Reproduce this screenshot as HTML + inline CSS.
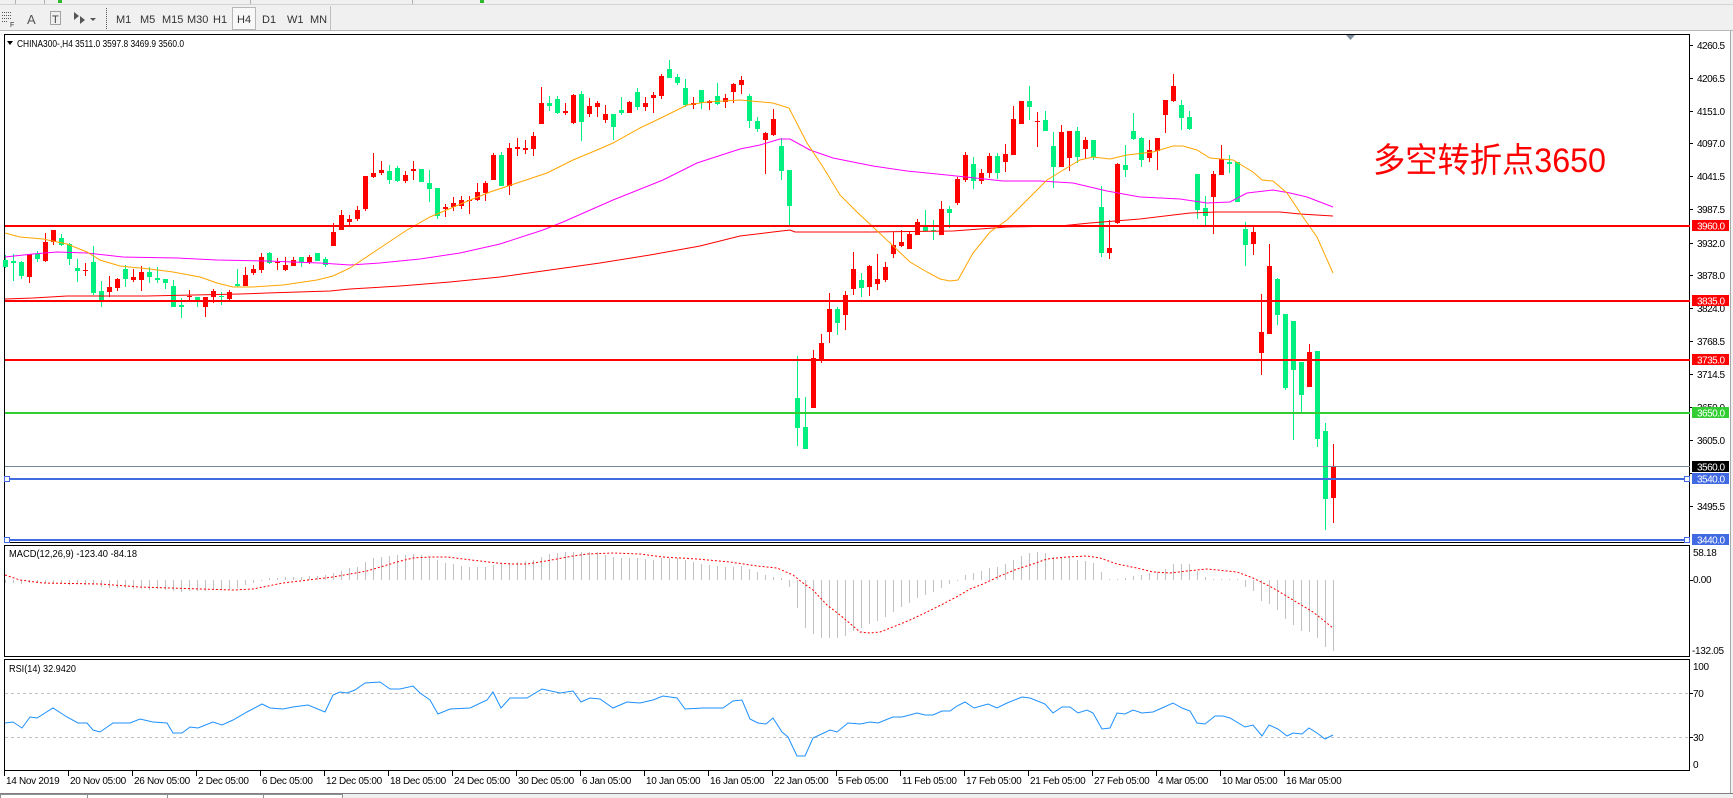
<!DOCTYPE html>
<html><head><meta charset="utf-8"><style>
html,body{margin:0;padding:0;background:#f0f0f0;}
body{width:1733px;height:798px;overflow:hidden;}
svg{display:block;}
text{font-family:"Liberation Sans",sans-serif;}
</style></head><body>
<svg width="1733" height="798" viewBox="0 0 1733 798" xmlns="http://www.w3.org/2000/svg">
<!-- window backgrounds -->
<rect x="0" y="0" width="1733" height="798" fill="#f0f0f0"/>
<line x1="0" y1="4.5" x2="1733" y2="4.5" stroke="#d4d4d4"/>
<rect x="58" y="0" width="4" height="3" fill="#2eb82e"/>
<rect x="480" y="0" width="4" height="3" fill="#2eb82e"/>
<line x1="15.5" y1="0" x2="15.5" y2="4" stroke="#b0b0b0"/>
<line x1="44.5" y1="0" x2="44.5" y2="4" stroke="#b0b0b0"/>
<line x1="250.5" y1="0" x2="250.5" y2="4" stroke="#b0b0b0"/>
<line x1="412.5" y1="0" x2="412.5" y2="4" stroke="#b0b0b0"/>
<!-- toolbar -->
<g stroke="#555" stroke-dasharray="1 1" shape-rendering="crispEdges">
<line x1="2" y1="12.5" x2="12" y2="12.5"/><line x1="2" y1="15.5" x2="12" y2="15.5"/><line x1="2" y1="18.5" x2="12" y2="18.5"/><line x1="2" y1="21.5" x2="8" y2="21.5"/>
<rect x="50.5" y="11.5" width="10" height="13" fill="none"/>
<line x1="106.5" y1="8" x2="106.5" y2="30"/>
</g>
<text x="10" y="27" font-size="7" fill="#333">F</text>
<text x="27" y="24" font-size="13" fill="#555">A</text>
<text x="52" y="23" font-size="11" fill="#444">T</text>
<g fill="#555"><path d="M74 12l5 4-5 4zM80 16l5 4-5 4z"/><path d="M90 18h6l-3 3z"/></g>
<rect x="232.5" y="7.5" width="23" height="22" fill="#f8f8f8" stroke="#b8b8b8"/>
<g font-size="11" fill="#333">
<text x="116" y="23">M1</text><text x="140" y="23">M5</text><text x="162" y="23">M15</text><text x="187" y="23">M30</text><text x="213" y="23">H1</text><text x="237" y="23">H4</text><text x="262" y="23">D1</text><text x="287" y="23">W1</text><text x="310" y="23">MN</text>
</g>
<line x1="330.5" y1="6" x2="330.5" y2="30" stroke="#c0c0c0"/>
<line x1="0" y1="30.5" x2="1733" y2="30.5" stroke="#b8b8b8"/>
<!-- chart white area -->
<rect x="0" y="31" width="1730" height="762" fill="#ffffff"/>
<line x1="1730.5" y1="31" x2="1730.5" y2="793" stroke="#a8a8a8"/>
<!-- bottom tabs -->
<rect x="0" y="793" width="1733" height="5" fill="#f0f0f0"/>
<line x1="0" y1="793.5" x2="1733" y2="793.5" stroke="#808080"/>
<rect x="0.5" y="794.5" width="342" height="5" fill="#fff" stroke="#909090"/>
<g stroke="#909090"><line x1="87.5" y1="794" x2="87.5" y2="798"/><line x1="167.5" y1="794" x2="167.5" y2="798"/><line x1="263.5" y1="794" x2="263.5" y2="798"/></g>

<!-- panel borders -->
<g fill="none" stroke="#000" shape-rendering="crispEdges">
<rect x="4.5" y="34.5" width="1685" height="508"/>
<rect x="4.5" y="545.5" width="1685" height="111"/>
<rect x="4.5" y="659.5" width="1685" height="111"/>
</g>
<!-- price axis ticks -->
<g stroke="#000" shape-rendering="crispEdges">
<path d="M1690 45.5h3M1690 78.5h3M1690 111.5h3M1690 143.5h3M1690 176.5h3M1690 209.5h3M1690 243.5h3M1690 275.5h3M1690 308.5h3M1690 341.5h3M1690 374.5h3M1690 407.5h3M1690 440.5h3M1690 473.5h3M1690 506.5h3M1690 580.5h3M1690 693.5h3M1690 737.5h3"/>
<path d="M4.5 771v5M68.5 771v5M132.5 771v5M196.5 771v5M260.5 771v5M324.5 771v5M388.5 771v5M452.5 771v5M516.5 771v5M580.5 771v5M644.5 771v5M708.5 771v5M772.5 771v5M836.5 771v5M900.5 771v5M964.5 771v5M1028.5 771v5M1092.5 771v5M1156.5 771v5M1220.5 771v5M1284.5 771v5"/>
</g>

<!-- title -->
<path d="M7 41h6l-3 4z" fill="#000"/>
<text x="17" y="47" font-size="10" fill="#000" textLength="167" lengthAdjust="spacingAndGlyphs">CHINA300-,H4  3511.0 3597.8 3469.9 3560.0</text>
<path d="M1346 35h9l-4.5 5z" fill="#8090a0"/>

<!-- candles: wicks -->
<g shape-rendering="crispEdges">
<path fill="none" stroke="#00f07f" d="M5.5 255V268M13.5 254V281M21.5 261V279M37.5 251V262M61.5 234V246M69.5 243V265M77.5 259V282M93.5 246V295M101.5 281V307M125.5 265V287M149.5 267V283M157.5 267V283M165.5 279V289M173.5 280V307M181.5 298V318M197.5 297V307M221.5 292V305M237.5 269V287M269.5 252V264M301.5 257V267M317.5 253V261M325.5 257V267M389.5 165V184M397.5 166V182M421.5 169V182M429.5 170V202M437.5 188V219M501.5 152V186M549.5 96V111M557.5 96V114M581.5 91V141M613.5 114V140M621.5 97V115M637.5 88V110M669.5 60V78M677.5 74V85M685.5 79V107M701.5 90V109M717.5 83V105M749.5 94V128M757.5 117V132M781.5 138V180M789.5 170V226M797.5 356V446M805.5 397V449M837.5 307V335M861.5 273V297M925.5 210V231M933.5 220V240M949.5 206V228M973.5 157V189M997.5 153V179M1029.5 86V120M1045.5 111V131M1053.5 132V188M1077.5 127V163M1093.5 140V160M1101.5 186V257M1125.5 145V177M1133.5 113V140M1141.5 137V167M1181.5 100V130M1189.5 111V130M1197.5 174V219M1205.5 196V225M1229.5 155V173M1237.5 162V202M1245.5 222V266M1277.5 278V325M1285.5 314V390M1293.5 321V440M1301.5 362V412M1317.5 351V447M1325.5 423V530"/>
<path fill="#00f07f" d="M3 260h5V267h-5zM11 261h5V263h-5zM19 262h5V276h-5zM35 254h5V259h-5zM59 238h5V245h-5zM67 244h5V259h-5zM75 268h5V271h-5zM91 262h5V293h-5zM99 291h5V300h-5zM123 269h5V279h-5zM147 272h5V277h-5zM155 278h5V280h-5zM163 279h5V283h-5zM171 286h5V307h-5zM179 305h5V307h-5zM195 297h5V300h-5zM219 296h5V297h-5zM235 284h5V286h-5zM267 253h5V263h-5zM299 257h5V262h-5zM315 253h5V261h-5zM323 259h5V265h-5zM387 171h5V180h-5zM395 168h5V181h-5zM419 169h5V182h-5zM427 183h5V189h-5zM435 188h5V216h-5zM499 155h5V186h-5zM547 103h5V106h-5zM555 99h5V113h-5zM579 94h5V122h-5zM611 114h5V127h-5zM619 110h5V113h-5zM635 92h5V107h-5zM667 69h5V78h-5zM675 77h5V83h-5zM683 88h5V105h-5zM699 90h5V103h-5zM715 96h5V104h-5zM747 96h5V121h-5zM755 121h5V129h-5zM779 146h5V171h-5zM787 170h5V206h-5zM795 398h5V428h-5zM803 427h5V449h-5zM835 309h5V323h-5zM859 280h5V288h-5zM923 227h5V231h-5zM931 230h5V231h-5zM947 209h5V213h-5zM971 164h5V181h-5zM995 156h5V173h-5zM1027 101h5V107h-5zM1043 120h5V131h-5zM1051 146h5V167h-5zM1075 131h5V157h-5zM1091 140h5V157h-5zM1099 207h5V253h-5zM1123 165h5V170h-5zM1131 131h5V139h-5zM1139 138h5V160h-5zM1179 105h5V118h-5zM1187 117h5V129h-5zM1195 174h5V210h-5zM1203 208h5V216h-5zM1227 162h5V164h-5zM1235 162h5V202h-5zM1243 229h5V245h-5zM1275 279h5V315h-5zM1283 314h5V388h-5zM1291 321h5V370h-5zM1299 362h5V395h-5zM1315 351h5V439h-5zM1323 431h5V499h-5z"/>
<path fill="none" stroke="#ff0000" d="M29.5 254V283M45.5 233V262M53.5 230V245M85.5 263V276M109.5 276V297M117.5 278V291M133.5 269V282M141.5 266V291M189.5 290V301M205.5 297V317M213.5 289V303M229.5 290V300M245.5 267V286M253.5 265V275M261.5 253V273M277.5 258V270M285.5 257V271M293.5 257V266M309.5 255V264M333.5 223V246M341.5 210V230M349.5 215V225M357.5 206V221M365.5 176V211M373.5 153V178M381.5 161V175M405.5 171V183M413.5 161V180M445.5 204V217M453.5 197V211M461.5 196V209M469.5 196V214M477.5 183V201M485.5 181V201M493.5 153V180M509.5 143V195M517.5 138V156M525.5 140V154M533.5 132V156M541.5 87V124M565.5 103V115M573.5 94V124M589.5 98V117M597.5 101V117M605.5 105V123M629.5 101V113M645.5 97V111M653.5 92V113M661.5 74V99M693.5 97V109M709.5 100V110M725.5 94V108M733.5 83V103M741.5 76V94M765.5 132V174M773.5 109V136M813.5 350V408M821.5 334V363M829.5 293V343M845.5 291V330M853.5 252V295M869.5 265V296M877.5 254V290M885.5 262V282M893.5 232V258M901.5 230V247M909.5 232V249M917.5 219V235M941.5 201V235M957.5 177V205M965.5 152V182M981.5 169V184M989.5 153V178M1005.5 144V172M1013.5 106V155M1021.5 101V124M1037.5 112V147M1061.5 125V167M1069.5 131V171M1085.5 137V159M1109.5 220V259M1117.5 163V224M1149.5 140V162M1157.5 138V170M1165.5 100V133M1173.5 74V102M1213.5 171V234M1221.5 145V175M1253.5 226V255M1261.5 294V375M1269.5 244V334M1309.5 344V387M1333.5 444V523"/>
<path fill="#ff0000" d="M27 254h5V277h-5zM43 242h5V261h-5zM51 230h5V242h-5zM83 270h5V271h-5zM107 287h5V292h-5zM115 279h5V288h-5zM131 277h5V280h-5zM139 272h5V280h-5zM187 296h5V297h-5zM203 297h5V307h-5zM211 291h5V297h-5zM227 292h5V299h-5zM243 275h5V286h-5zM251 269h5V273h-5zM259 257h5V270h-5zM275 262h5V263h-5zM283 265h5V270h-5zM291 260h5V266h-5zM307 257h5V262h-5zM331 232h5V246h-5zM339 215h5V230h-5zM347 219h5V222h-5zM355 210h5V219h-5zM363 176h5V209h-5zM371 173h5V177h-5zM379 170h5V173h-5zM403 175h5V181h-5zM411 169h5V171h-5zM443 207h5V209h-5zM451 203h5V207h-5zM459 200h5V206h-5zM467 200h5V201h-5zM475 192h5V200h-5zM483 183h5V193h-5zM491 155h5V180h-5zM507 148h5V186h-5zM515 147h5V149h-5zM523 148h5V150h-5zM531 136h5V149h-5zM539 103h5V124h-5zM563 111h5V113h-5zM571 95h5V123h-5zM587 106h5V114h-5zM595 103h5V107h-5zM603 114h5V120h-5zM627 102h5V113h-5zM643 103h5V107h-5zM651 95h5V98h-5zM659 76h5V96h-5zM691 103h5V105h-5zM707 101h5V103h-5zM723 98h5V102h-5zM731 84h5V92h-5zM739 80h5V85h-5zM763 133h5V140h-5zM771 119h5V135h-5zM811 358h5V408h-5zM819 343h5V361h-5zM827 309h5V332h-5zM843 295h5V315h-5zM851 269h5V289h-5zM867 266h5V287h-5zM875 279h5V284h-5zM883 267h5V280h-5zM891 245h5V254h-5zM899 242h5V246h-5zM907 234h5V249h-5zM915 222h5V235h-5zM939 209h5V235h-5zM955 179h5V203h-5zM963 155h5V180h-5zM979 173h5V181h-5zM987 156h5V173h-5zM1003 154h5V162h-5zM1011 119h5V155h-5zM1019 101h5V124h-5zM1035 121h5V122h-5zM1059 132h5V167h-5zM1067 131h5V158h-5zM1083 140h5V149h-5zM1107 248h5V253h-5zM1115 164h5V223h-5zM1147 150h5V158h-5zM1155 138h5V151h-5zM1163 100h5V115h-5zM1171 86h5V101h-5zM1211 174h5V197h-5zM1219 159h5V175h-5zM1251 232h5V244h-5zM1259 332h5V353h-5zM1267 266h5V334h-5zM1307 352h5V387h-5zM1331 467h5V498h-5z"/>
</g>

<!-- moving averages -->
<g fill="none" stroke-width="1">
<polyline stroke="#ff0000" points="5,299 33,298 50,297 67,296 147,296 240,294 267,293 330,291 350,289 400,286 450,282 500,277 550,270 600,263 650,255 700,246 740,236 773,232 790,230 795,232 873,232 953,231 1007,227 1060,226 1090,223 1140,219 1190,213 1217,212 1280,212 1300,214 1333,216"/>
<polyline stroke="#ff00ff" points="5,257 33,254 57,252 87,253 123,257 177,258 217,260 267,261 320,263 350,265 380,263 420,259 460,253 500,244 543,230 563,222 613,200 663,180 697,163 740,149 760,145 780,139 790,139 810,150 833,158 873,166 907,171 947,175 1003,181 1040,181 1073,183 1107,191 1140,197 1180,199 1207,203 1230,202 1247,193 1273,190 1290,193 1307,197 1333,207"/>
<polyline stroke="#ffa500" points="5,233 20,237 43,239 67,244 87,252 100,260 120,266 150,269 173,272 200,277 217,283 233,287 253,287 283,285 317,280 333,276 350,268 380,248 407,230 430,217 463,203 490,192 517,183 547,173 573,160 597,150 613,143 640,128 663,117 687,105 707,102 740,100 773,103 789,108 807,143 823,167 840,195 857,212 873,227 890,243 910,262 927,272 940,279 950,281 958,280 973,253 990,232 1007,220 1027,200 1047,180 1060,172 1080,160 1093,157 1110,159 1127,155 1153,152 1173,146 1183,146 1197,150 1210,158 1233,160 1253,172 1262,180 1273,181 1287,193 1303,217 1317,237 1333,273"/>
</g>

<!-- horizontal lines -->
<g shape-rendering="crispEdges">
<rect x="5" y="225" width="1685" height="2" fill="#ff0000"/>
<rect x="5" y="300" width="1685" height="2" fill="#ff0000"/>
<rect x="5" y="359" width="1685" height="2" fill="#ff0000"/>
<rect x="5" y="412" width="1685" height="2" fill="#32cd32"/>
<rect x="5" y="466" width="1685" height="1" fill="#778899"/>
<rect x="5" y="478" width="1685" height="2" fill="#4169e1"/>
<rect x="5" y="539" width="1685" height="2" fill="#4169e1"/>
<rect x="4.5" y="476.5" width="5" height="5" fill="#fff" stroke="#4169e1"/>
<rect x="1684.5" y="476.5" width="5" height="5" fill="#fff" stroke="#4169e1"/>
<rect x="4.5" y="537.5" width="5" height="5" fill="#fff" stroke="#4169e1"/>
<rect x="1684.5" y="537.5" width="5" height="5" fill="#fff" stroke="#4169e1"/>
</g>

<!-- annotation -->
<text x="1373" y="172" font-size="34" fill="#ff0000" textLength="233" lengthAdjust="spacingAndGlyphs" style="font-family:'Liberation Sans','Noto Sans CJK SC',sans-serif">多空转折点3650</text>

<!-- price axis labels -->
<g font-size="10" fill="#000" letter-spacing="-0.5">
<text x="1697" y="49">4260.5</text>
<text x="1697" y="82">4206.5</text>
<text x="1697" y="115">4151.0</text>
<text x="1697" y="147">4097.0</text>
<text x="1697" y="180">4041.5</text>
<text x="1697" y="213">3987.5</text>
<text x="1697" y="247">3932.0</text>
<text x="1697" y="279">3878.0</text>
<text x="1697" y="312">3824.0</text>
<text x="1697" y="345">3768.5</text>
<text x="1697" y="378">3714.5</text>
<text x="1697" y="411">3659.0</text>
<text x="1697" y="444">3605.0</text>
<text x="1697" y="510">3495.5</text>
</g>
<g shape-rendering="crispEdges">
<rect x="1692" y="220" width="37" height="11" fill="#ff0000"/>
<rect x="1692" y="295" width="37" height="11" fill="#ff0000"/>
<rect x="1692" y="354" width="37" height="11" fill="#ff0000"/>
<rect x="1692" y="407" width="37" height="11" fill="#32cd32"/>
<rect x="1692" y="461" width="37" height="11" fill="#000000"/>
<rect x="1692" y="473" width="37" height="11" fill="#4169e1"/>
<rect x="1692" y="534" width="37" height="11" fill="#4169e1"/>
</g>
<g font-size="10" fill="#fff" letter-spacing="-0.5">
<text x="1697" y="229.5">3960.0</text>
<text x="1697" y="304.5">3835.0</text>
<text x="1697" y="363.5">3735.0</text>
<text x="1697" y="416.5">3650.0</text>
<text x="1697" y="470.5">3560.0</text>
<text x="1697" y="482.5">3540.0</text>
<text x="1697" y="543.5">3440.0</text>
</g>

<!-- MACD -->
<path fill="none" stroke="#c0c0c0" shape-rendering="crispEdges" d="M5.5 580V583M13.5 580V583M21.5 580V584M29.5 580V583M37.5 580V583M45.5 580V583M53.5 580V584M61.5 580V584M69.5 580V585M77.5 580V584M85.5 580V585M93.5 580V585M101.5 580V587M109.5 580V588M117.5 580V588M125.5 580V588M133.5 580V589M141.5 580V589M149.5 580V590M157.5 580V589M165.5 580V590M173.5 580V591M181.5 580V592M189.5 580V591M197.5 580V591M205.5 580V591M213.5 580V590M221.5 580V590M229.5 580V589M237.5 580V588M245.5 580V585M253.5 580V583M261.5 580V581M269.5 580V578M277.5 580V578M285.5 580V577M293.5 580V577M301.5 580V577M309.5 580V576M317.5 580V576M325.5 580V575M333.5 580V573M341.5 580V571M349.5 580V568M357.5 580V567M365.5 580V562M373.5 580V558M381.5 580V557M389.5 580V556M397.5 580V555M405.5 580V555M413.5 580V554M421.5 580V555M429.5 580V557M437.5 580V560M445.5 580V563M453.5 580V564M461.5 580V566M469.5 580V567M477.5 580V567M485.5 580V567M493.5 580V565M501.5 580V564M509.5 580V563M517.5 580V562M525.5 580V561M533.5 580V560M541.5 580V557M549.5 580V554M557.5 580V553M565.5 580V552M573.5 580V552M581.5 580V552M589.5 580V552M597.5 580V552M605.5 580V555M613.5 580V557M621.5 580V558M629.5 580V558M637.5 580V558M645.5 580V559M653.5 580V560M661.5 580V558M669.5 580V558M677.5 580V558M685.5 580V560M693.5 580V562M701.5 580V564M709.5 580V565M717.5 580V566M725.5 580V567M733.5 580V567M741.5 580V566M749.5 580V569M757.5 580V572M765.5 580V575M773.5 580V577M781.5 580V578M789.5 580V587M797.5 580V608M805.5 580V628M813.5 580V634M821.5 580V638M829.5 580V638M837.5 580V638M845.5 580V636M853.5 580V631M861.5 580V628M869.5 580V624M877.5 580V621M885.5 580V617M893.5 580V612M901.5 580V607M909.5 580V603M917.5 580V598M925.5 580V595M933.5 580V592M941.5 580V588M949.5 580V584M957.5 580V581M965.5 580V575M973.5 580V573M981.5 580V571M989.5 580V568M997.5 580V567M1005.5 580V564M1013.5 580V560M1021.5 580V556M1029.5 580V553M1037.5 580V552M1045.5 580V553M1053.5 580V557M1061.5 580V557M1069.5 580V557M1077.5 580V560M1085.5 580V561M1093.5 580V563M1101.5 580V572M1109.5 580V579M1117.5 580V579M1125.5 580V578M1133.5 580V576M1141.5 580V575M1149.5 580V573M1157.5 580V572M1165.5 580V569M1173.5 580V564M1181.5 580V564M1189.5 580V564M1197.5 580V571M1205.5 580V577M1213.5 580V579M1221.5 580V579M1229.5 580V579M1237.5 580V579M1245.5 580V587M1253.5 580V591M1261.5 580V601M1269.5 580V604M1277.5 580V610M1285.5 580V619M1293.5 580V625M1301.5 580V631M1309.5 580V632M1317.5 580V638M1325.5 580V647M1333.5 580V651"/>
<polyline fill="none" stroke="#ff0000" stroke-dasharray="2 2" points="5,575 20,580 43,583 100,584 140,587 200,589 233,590 253,589 283,583 333,577 367,571 397,562 413,558 430,557 447,557 463,559 480,561 497,563 513,564 527,564 540,562 557,559 573,556 587,554 613,553 640,554 663,557 697,559 730,562 757,566 777,568 793,575 803,583 813,590 827,605 840,615 860,632 870,633 880,632 893,627 910,620 927,612 943,604 960,595 970,589 983,584 1000,576 1017,569 1030,565 1047,559 1067,557 1087,556 1100,558 1117,564 1137,568 1153,572 1170,573 1187,571 1207,569 1237,572 1253,578 1273,588 1293,600 1313,612 1333,628"/>
<text x="9" y="557" font-size="10" fill="#000" textLength="128" lengthAdjust="spacingAndGlyphs">MACD(12,26,9) -123.40 -84.18</text>
<g font-size="10" fill="#000" letter-spacing="-0.3">
<text x="1693" y="556">58.18</text>
<text x="1693" y="583">0.00</text>
<text x="1692" y="654">-132.05</text>
</g>

<!-- RSI -->
<g stroke="#c0c0c0" stroke-dasharray="3 3" shape-rendering="crispEdges">
<line x1="5" y1="693.5" x2="1690" y2="693.5"/>
<line x1="5" y1="737.5" x2="1690" y2="737.5"/>
</g>
<polyline fill="none" stroke="#1e90ff" points="5,723 13,722 22,728 30,717 37,718 53,708 67,717 78,723 87,723 93,730 100,732 113,723 130,723 140,719 153,722 167,723 173,733 182,733 190,727 198,728 213,722 222,725 233,720 247,712 262,704 270,708 283,709 293,707 308,705 325,712 333,695 340,692 347,693 355,690 365,683 380,682 390,689 400,689 413,686 420,693 430,700 438,714 450,709 470,708 487,700 493,692 501,708 510,698 527,698 542,689 560,693 573,691 581,702 590,698 600,699 613,708 627,702 640,703 653,700 663,696 677,698 685,709 703,708 713,708 723,708 733,701 742,700 750,719 758,723 766,724 773,718 782,732 788,737 797,756 805,756 813,738 830,730 837,732 848,723 860,724 870,722 878,723 893,717 902,717 917,713 925,715 933,715 942,711 950,711 957,706 965,702 974,708 988,704 997,708 1007,703 1022,697 1030,698 1045,704 1053,713 1062,707 1070,707 1078,713 1087,710 1093,713 1102,729 1110,728 1117,713 1125,714 1133,710 1142,713 1153,712 1162,708 1173,703 1182,708 1190,711 1197,723 1205,724 1215,716 1223,716 1230,718 1245,727 1253,725 1262,736 1269,725 1278,729 1287,736 1293,733 1302,734 1309,728 1317,733 1325,739 1333,735"/>
<text x="9" y="672" font-size="10" fill="#000" textLength="67" lengthAdjust="spacingAndGlyphs">RSI(14) 32.9420</text>
<g font-size="10" fill="#000" letter-spacing="-0.3">
<text x="1693" y="670">100</text>
<text x="1693" y="697">70</text>
<text x="1693" y="741">30</text>
<text x="1693" y="768">0</text>
</g>

<!-- time axis labels -->
<g font-size="10" fill="#000" letter-spacing="-0.3">
<text x="6" y="784">14 Nov 2019</text>
<text x="70" y="784">20 Nov 05:00</text>
<text x="134" y="784">26 Nov 05:00</text>
<text x="198" y="784">2 Dec 05:00</text>
<text x="262" y="784">6 Dec 05:00</text>
<text x="326" y="784">12 Dec 05:00</text>
<text x="390" y="784">18 Dec 05:00</text>
<text x="454" y="784">24 Dec 05:00</text>
<text x="518" y="784">30 Dec 05:00</text>
<text x="582" y="784">6 Jan 05:00</text>
<text x="646" y="784">10 Jan 05:00</text>
<text x="710" y="784">16 Jan 05:00</text>
<text x="774" y="784">22 Jan 05:00</text>
<text x="838" y="784">5 Feb 05:00</text>
<text x="902" y="784">11 Feb 05:00</text>
<text x="966" y="784">17 Feb 05:00</text>
<text x="1030" y="784">21 Feb 05:00</text>
<text x="1094" y="784">27 Feb 05:00</text>
<text x="1158" y="784">4 Mar 05:00</text>
<text x="1222" y="784">10 Mar 05:00</text>
<text x="1286" y="784">16 Mar 05:00</text>
</g>
</svg>
</body></html>
